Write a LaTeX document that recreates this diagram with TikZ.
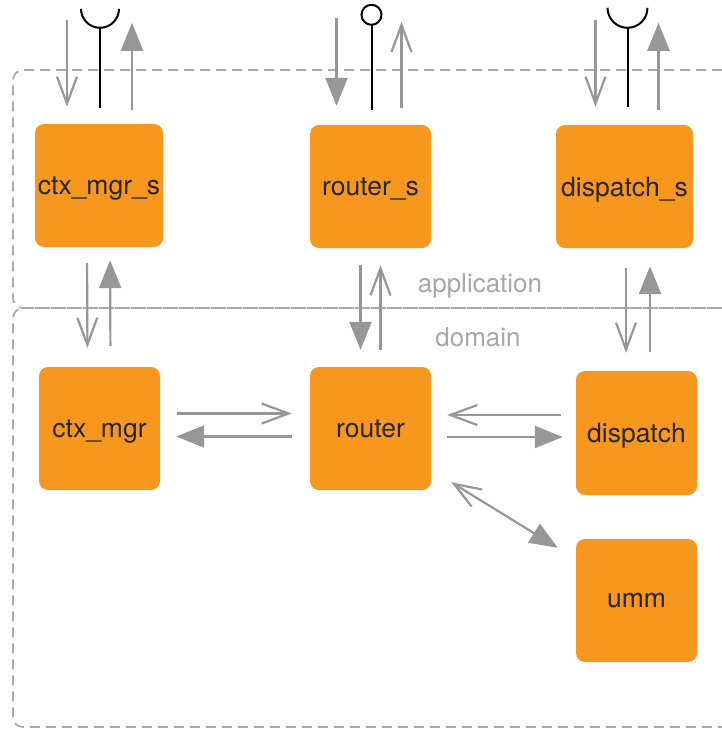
\documentclass[tikz,border=0pt]{standalone}
\usepackage{fontspec}
\setmainfont{TeX Gyre Heros}
\usetikzlibrary{arrows.meta,calc}

\definecolor{boxorange}{HTML}{F7971D}
\definecolor{flowgray}{HTML}{979797}
\definecolor{layergray}{HTML}{ABABAB}
\definecolor{labelgray}{HTML}{A8A8A8}
\definecolor{textdark}{HTML}{262626}

\tikzset{
  openhead/.tip={Straight Barb[length=27pt,width=20pt]},
  fullhead/.tip={Triangle[length=28pt,width=22pt]},
  module/.style={rectangle, rounded corners=9pt, fill=boxorange, text=textdark, inner sep=0pt,
    minimum width=121pt, minimum height=123pt, text depth=0pt, font=\fontsize{26.5}{31}\selectfont},
  layer/.style={draw=layergray, line width=1.8pt, dash pattern=on 10pt off 6pt, rounded corners=10pt},
  layername/.style={text=labelgray, font=\fontsize{26}{31}\selectfont},
  flow/.style={draw=flowgray, line width=2.2pt},
  barb/.style={flow, -openhead},
  tri/.style={flow, -fullhead},
  iface/.style={draw=black, line width=2pt}
}

\begin{document}
\begin{tikzpicture}[x=1pt, y=-1pt]
    \useasboundingbox (0,0) rectangle (722,729);

    % layers
    \draw[layer] (722,70) -- (13,70) -- (13,308) -- (722,308);
    \draw[layer] (722,308) -- (13,308) -- (13,727) -- (722,727);
    \node[layername] (app) at (480,286) {application};
    \node[layername] (dom) at (478,337) {domain};

    % modules
    \node[module, minimum width=128pt] (ctxs) at (99,185.5) {ctx\_mgr\_s};
    \node[module] (routers) at (370.5,186.5) {router\_s};
    \node[module, minimum width=137pt] (dsps) at (624.5,186.5) {dispatch\_s};
    \node[module] (ctx) at (99.5,428.5) {ctx\_mgr};
    \node[module] (router) at (370.5,428.5) {router};
    \node[module, minimum height=124pt] (dsp) at (636.5,433) {dispatch};
    \node[module] (umm) at (636.5,600.5) {umm};

    % outer interfaces
    \draw[barb, shorten >=17pt] ($(ctxs.north)+(-32,-104)$) -- ([xshift=-32pt]ctxs.north);
    \draw[tri, shorten <=14pt] ([xshift=33pt]ctxs.north) -- ($(ctxs.north)+(33,-101)$);
    \draw[iface] ($(ctxs.north)+(1,-16)$) -- ++(0,-80) coordinate (ctxs-req);
    \draw[iface] (ctxs-req) ++(-19,-19) arc[start angle=180, end angle=0, radius=19];

    \draw[tri, shorten >=19pt] ($(routers.north)+(-34,-107)$) -- ([xshift=-34pt]routers.north);
    \draw[barb, shorten <=17pt] ([xshift=31pt]routers.north) -- ($(routers.north)+(31,-103)$);
    \draw[iface] ($(routers.north)+(1,-15)$) -- ++(0,-85) coordinate (routers-prov);
    \draw[iface, fill=white] (routers-prov) ++(0,-10) circle[radius=10];

    \draw[barb, shorten >=18pt] ($(dsps.north)+(-29,-105)$) -- ([xshift=-29pt]dsps.north);
    \draw[tri, shorten <=15pt] ([xshift=34pt]dsps.north) -- ($(dsps.north)+(34,-102)$);
    \draw[iface] ($(dsps.north)+(3,-18)$) -- ++(0,-79) coordinate (dsps-req);
    \draw[iface] (dsps-req) ++(-20,-20) arc[start angle=180, end angle=0, radius=20];

    % application to domain
    \draw[barb, shorten <=16pt, shorten >=19pt] ([xshift=-12pt]ctxs.south) -- ([xshift=-12pt]ctx.north);
    \draw[tri, shorten <=21pt, shorten >=13pt] ([xshift=11pt]ctx.north) -- ([xshift=11pt]ctxs.south);

    \draw[tri, shorten <=17pt, shorten >=17pt] ([xshift=-10pt]routers.south) -- ([xshift=-10pt]router.north);
    \draw[barb, shorten <=17pt, shorten >=17pt] ([xshift=10pt]router.north) -- ([xshift=10pt]routers.south);

    \coordinate (dsp-in) at ([xshift=-10.5pt]dsp.north);
    \coordinate (dsp-out) at ([xshift=13.5pt]dsp.north);
    \draw[barb, shorten <=20pt, shorten >=18pt] (dsp-in |- dsps.south) -- (dsp-in);
    \draw[tri, shorten <=19pt, shorten >=18pt] (dsp-out) -- (dsp-out |- dsps.south);

    % domain
    \draw[barb, shorten <=17pt, shorten >=18pt] ([yshift=15pt]ctx.east) -- ([yshift=15pt]router.west);
    \draw[tri, shorten <=18pt, shorten >=16pt] ([yshift=-8pt]router.west) -- ([yshift=-8pt]ctx.east);

    \coordinate (rd-top) at ([yshift=13.5pt]router.east);
    \coordinate (rd-bot) at ([yshift=-8.5pt]router.east);
    \draw[barb, shorten <=15pt, shorten >=16pt] (rd-top -| dsp.west) -- (rd-top);
    \draw[tri, shorten <=16pt, shorten >=13pt] (rd-bot) -- (rd-bot -| dsp.west);

    \draw[flow, openhead-fullhead] ([xshift=20pt, yshift=8pt]router.south east) -- ([xshift=-18pt, yshift=-9pt]umm.north west);
\end{tikzpicture}
\end{document}
